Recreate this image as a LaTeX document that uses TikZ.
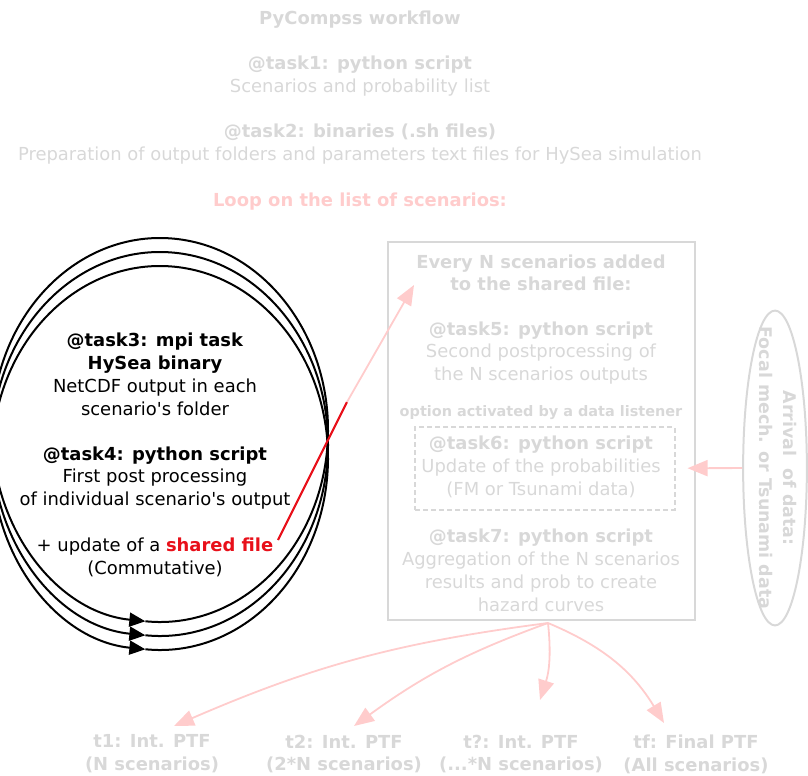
\documentclass[tikz,border=0pt]{standalone}
\usepackage{fontspec}
\setmainfont{DejaVu Sans}[Ligatures=TeXOff]
\usepackage{tikz}
\usetikzlibrary{arrows.meta, shapes.geometric, positioning}
\definecolor{FadeGray}{HTML}{D8D8D8}
\definecolor{FadePink}{HTML}{FFCCCC}
\definecolor{ShareRed}{HTML}{E8101A}

\begin{document}
\begin{tikzpicture}[x=1bp, y=-1bp,
  fadetxt/.style={text=FadeGray, align=center, inner sep=0pt, font=\fontsize{18}{23}\selectfont},
  fadehead/.style={fadetxt, font=\bfseries\fontsize{18}{23}\selectfont},
  looptxt/.style={text=black, align=center, inner sep=0pt, font=\fontsize{18}{23}\selectfont},
  loopline/.style={black, line width=2bp, -{Triangle[length=16bp, width=14bp]}},
  pinkarrow/.style={FadePink, line width=1.8bp, -{Triangle[length=20bp, width=16bp]}},
  grayframe/.style={draw=FadeGray, line width=2bp},
]
\useasboundingbox (0,0) rectangle (808,776);

% --- header: first tasks ---
\node[fadehead] (title) at (360,20) {PyCompss workflow};
\node[fadetxt] (task1) at (360,76.5) {\textbf{@task1: python script}\\Scenarios and probability list};
\node[fadetxt] (task2) at (360,144.5) {\textbf{@task2: binaries (.sh files)}\\Preparation of output folders and parameters text files for HySea simulation};
\node[fadehead, text=FadePink] (loop) at (360,202) {Loop on the list of scenarios:};

% --- loop on scenarios ---
\foreach \cy in {430,444,458}
{
  \draw[loopline] (160,\cy) ++(455:168 and 192) arc[start angle=455, end angle=95, x radius=168, y radius=192];
}
\node[looptxt] (task3) at (155,374.5) {\textbf{@task3: mpi task}\\\textbf{HySea binary}\\NetCDF output in each\\scenario's folder};
\node[looptxt] (task4) at (155,478) {\textbf{@task4: python script}\\First post processing\\of individual scenario's output};
\node[looptxt] (update) at (155,557.5) {+ update of a \textcolor{ShareRed}{\textbf{shared file}}\\(Commutative)};

% --- every N scenarios ---
\node[grayframe, minimum width=309, minimum height=380] (nbox) at (541.5,431) {};
\node[fadehead, font=\bfseries\fontsize{18}{22}\selectfont] (every) at (541,273) {Every N scenarios added\\to the shared file:};
\node[fadetxt] (task5) at (541,353) {\textbf{@task5: python script}\\Second postprocessing of\\the N scenarios outputs};
\node[fadehead, font=\bfseries\fontsize{14.5}{16}\selectfont] (listener) at (541,413) {option activated by a data listener};
\node[draw=FadeGray, dash pattern=on 5bp off 3bp, line width=2bp, minimum width=260, minimum height=83] (task6box) at (545,468.5) {};
\node[fadetxt] (task6) at (541,467) {\textbf{@task6: python script}\\Update of the probabilities\\(FM or Tsunami data)};
\node[fadetxt] (task7) at (541,570.5) {\textbf{@task7: python script}\\Aggregation of the N scenarios\\results and prob to create\\hazard curves};

% --- incoming data ---
\node[grayframe, ellipse, minimum width=64, minimum height=316, inner sep=0pt] (arrival) at (775,468) {};
\node[fadehead, rotate=-90, font=\bfseries\fontsize{17.5}{24}\selectfont] (arrivaltxt) at (778,468) {Arrival\ \ of data:\\Focal mech. or Tsunami data};
\draw[pinkarrow, shorten >=12bp] (arrival) -- (task6box);

% --- shared file link ---
\coordinate (sharestart) at (278,540);
\coordinate (sharekink) at (347,402);
\coordinate (sharetip) at (414,285);
\draw[ShareRed, line width=2.2bp] (sharestart) -- (sharekink);
\draw[pinkarrow] (sharekink) -- (sharetip);

% --- PTF outputs ---
\node[fadehead] (out1) at (152,754) {t1: Int. PTF\\(N scenarios)};
\node[fadehead] (out2) at (344,754) {t2: Int. PTF\\(2*N scenarios)};
\node[fadehead] (out3) at (521,754) {t?: Int. PTF\\(...*N scenarios)};
\node[fadehead] (out4) at (696,754) {tf: Final PTF\\(All scenarios)};
\coordinate (fanout) at (548,623);
\coordinate (tip1) at (174,726);
\coordinate (tip2) at (354,726);
\coordinate (tip3) at (540,700);
\coordinate (tip4) at (664,723);
\draw[pinkarrow] (fanout) to[bend right=8] (tip1);
\draw[pinkarrow] (fanout) to[bend right=8] (tip2);
\draw[pinkarrow] (fanout) to[bend left=12] (tip3);
\draw[pinkarrow] (fanout) to[bend left=18] (tip4);

\end{tikzpicture}
\end{document}
